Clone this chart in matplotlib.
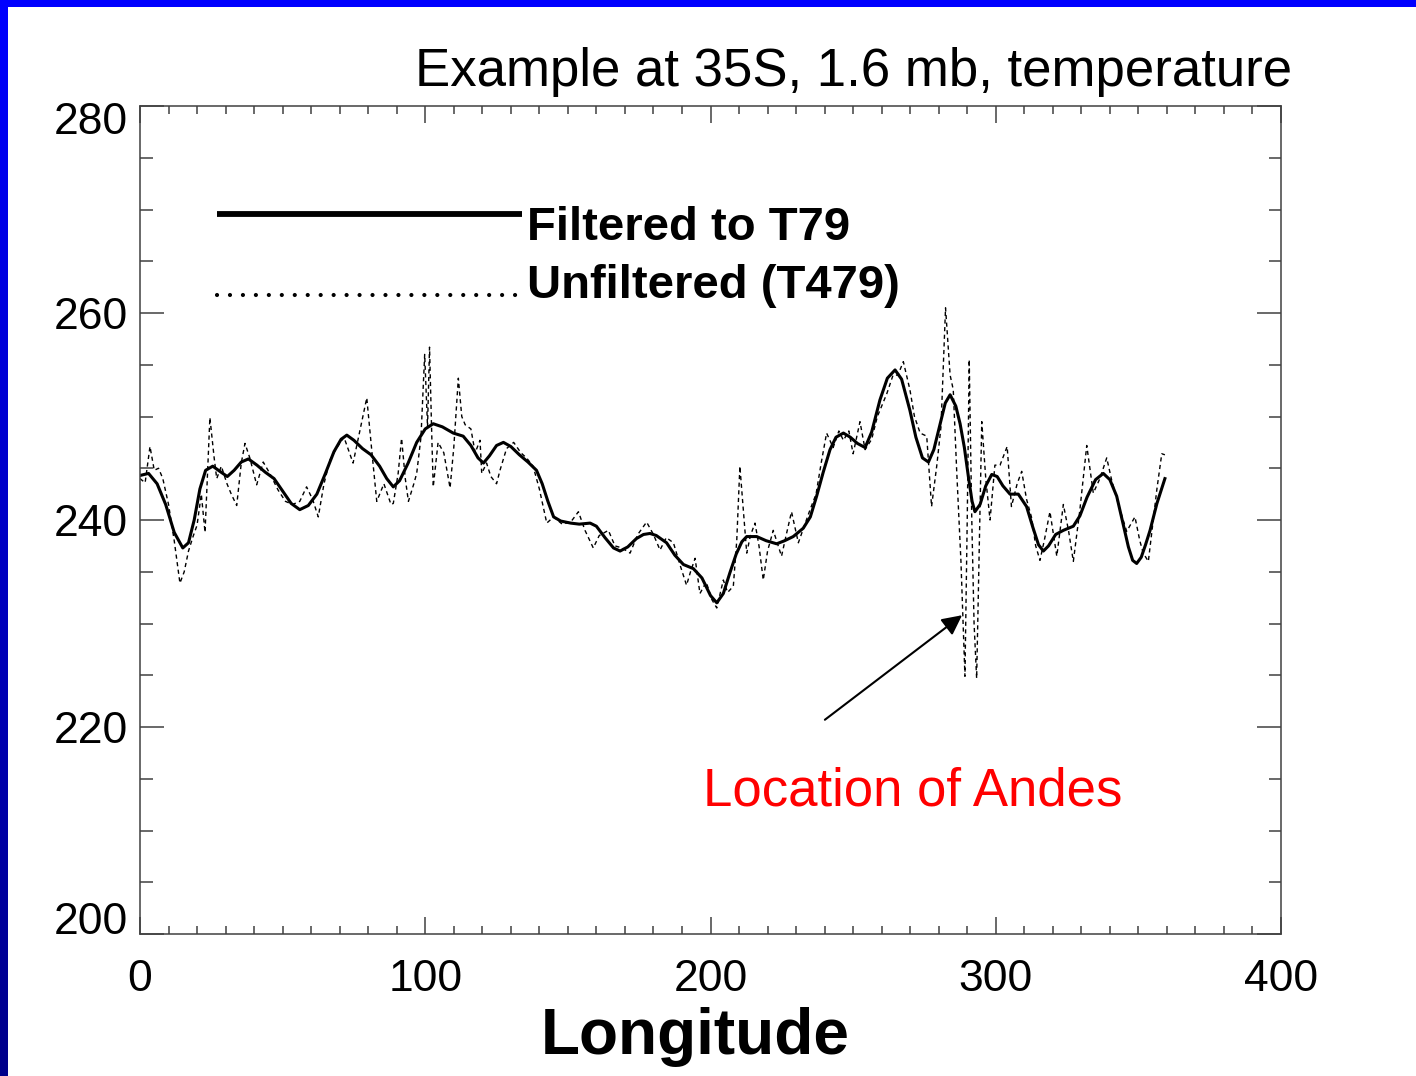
import numpy as np
import matplotlib
matplotlib.use("Agg")
import matplotlib.pyplot as plt
from matplotlib.ticker import MultipleLocator
from matplotlib.transforms import ScaledTranslation

plt.rcParams['font.family'] = ['Liberation Sans', 'DejaVu Sans']

# Filtered to T79 (smooth curve)
lon_filt = [0, 3, 6, 9, 12, 15, 17, 19, 21, 23, 25.5, 28, 30.6, 33, 35.5, 38, 41, 44, 47, 50,
            53, 56, 59, 62, 65, 68, 70.5, 72.5, 75, 78, 81, 84, 86.5, 88.8, 91, 94, 97, 100,
            102.8, 106, 109.8, 113.3, 116, 118.5, 120.4, 122.5, 125, 127.4, 130, 133, 136, 139,
            141, 143, 145, 147.5, 151, 154, 157.8, 160, 163, 166, 168.3, 171, 174, 176.5, 178.8,
            181, 184.6, 187.5, 190.5, 194, 197, 200, 202.2, 204.5, 206.8, 209, 211, 212.7, 216.2,
            219.5, 223.2, 226, 229, 232.5, 235, 237.2, 239.5, 241.9, 244, 246.6, 249, 251.5,
            254.2, 256.5, 259.4, 262, 264.7, 267, 269.9, 272, 274.3, 276.4, 278.3, 280.5, 282.3,
            284, 286, 287.5, 289, 290.5, 291.7, 292.7, 294.5, 296.5, 298.6, 300.5, 302.5, 305,
            307.9, 310.8, 313, 315, 316.7, 318.5, 321, 323.7, 327.2, 329.5, 332, 335, 337.7, 340,
            342.4, 344.5, 346.5, 348, 349.4, 351, 352.5, 354.1, 356.5, 359.3]
t_filt = [244.3, 244.5, 243.5, 241.5, 238.8, 237.3, 237.8, 240.0, 243.0, 244.8, 245.2, 244.7,
          244.2, 244.8, 245.6, 245.9, 245.3, 244.6, 244.0, 242.8, 241.6, 241.0, 241.4, 242.5,
          244.5, 246.6, 247.8, 248.2, 247.7, 246.9, 246.3, 245.2, 244.0, 243.2, 243.8, 245.5,
          247.5, 248.8, 249.3, 249.0, 248.4, 248.1, 247.2, 246.0, 245.5, 246.2, 247.2, 247.5,
          247.1, 246.3, 245.6, 244.8, 243.5, 241.8, 240.3, 239.9, 239.7, 239.6, 239.7, 239.4,
          238.3, 237.3, 237.0, 237.4, 238.2, 238.6, 238.7, 238.5, 237.8, 236.6, 235.7, 235.3,
          234.4, 232.7, 232.0, 232.9, 234.9, 236.7, 237.9, 238.4, 238.4, 238.0, 237.7, 238.0,
          238.4, 239.2, 240.3, 242.3, 244.6, 246.8, 248.0, 248.4, 248.0, 247.4, 247.0, 248.5,
          251.6, 253.7, 254.5, 253.6, 250.6, 248.0, 246.0, 245.6, 246.8, 249.3, 251.3, 252.1,
          251.0, 249.3, 247.0, 244.0, 241.8, 240.8, 241.5, 243.3, 244.4, 244.2, 243.3, 242.5,
          242.5, 241.3, 239.3, 237.6, 237.0, 237.5, 238.6, 239.0, 239.4, 240.4, 242.2, 243.9,
          244.5, 243.9, 242.3, 239.8, 237.4, 236.1, 235.8, 236.4, 237.6, 239.0, 241.6, 244.0]

# Unfiltered (T479)
lon_raw = [0, 1.8, 3.5, 5, 6.5, 8, 10, 12, 14, 15.5, 17, 18.6, 20, 21.5, 22.8, 24.5, 26, 26.9,
           28.5, 30.5, 32, 33.9, 35.5, 36.8, 38.5, 40.9, 43.2, 45.5, 48.4, 51, 53.5, 56, 58.4,
           60.5, 62.5, 64.5, 66.6, 69, 71.5, 74.7, 77, 79.5, 81.5, 83, 85.5, 88, 88.8, 90.5,
           91.7, 93, 94.1, 96, 97, 98.5, 99.8, 100.8, 101.5, 102.3, 102.8, 104.5, 106.5, 108.7,
           110, 111.6, 112.8, 114, 116, 117.5, 119.2, 119.8, 121.5, 123, 125, 126.2, 128.5, 131,
           133.5, 135.5, 137.8, 140, 142.6, 145, 148, 151, 153.7, 156, 158.9, 161, 164.2, 166.5,
           169, 171.8, 174.5, 177.6, 180, 182.3, 184.5, 187, 189.5, 191.6, 193, 194.6, 196.3,
           198.5, 200.5, 202.2, 204.5, 206, 208, 209.2, 210.3, 211.5, 212.7, 214, 215.6, 217,
           218.5, 220, 222, 224.9, 226.5, 228.4, 230.8, 233, 234.9, 237, 238.8, 240.7, 243, 245,
           246.6, 248.5, 250, 252.4, 254.2, 256.5, 258.5, 260, 261.8, 264, 265.7, 267.6, 269.9,
           271.5, 273.5, 275.8, 277.5, 279.3, 280.8, 282.4, 284, 285.1, 286.3, 287.8, 289.2,
           290.0, 290.7, 291.6, 292.4, 293.3, 294.2, 295.1, 296.5, 298, 299.7, 301.5, 304, 305.5,
           307.5, 309.1, 310.8, 312.6, 314, 315.5, 317, 319, 321.4, 323.7, 325.5, 327.2, 329.5,
           331.9, 334.2, 336.5, 338.9, 340.6, 343, 345.9, 348.8, 350.5, 351.7, 353.5, 355, 356.5,
           358.2, 359.3]
t_raw = [244.0, 243.6, 247.1, 244.8, 245.0, 244.0, 241.5, 238.0, 233.9, 235.0, 237.0, 238.4,
         239.5, 242.5, 238.8, 249.9, 246.0, 244.0, 245.2, 243.5, 242.5, 241.4, 245.5, 247.4,
         246.0, 243.4, 245.6, 244.5, 242.9, 241.8, 241.5, 241.8, 243.2, 242.0, 240.3, 243.5,
         245.8, 247.0, 248.0, 245.5, 248.5, 251.8, 246.0, 241.8, 243.5, 241.5, 241.6, 244.5,
         247.9, 244.0, 241.8, 243.5, 244.5, 248.0, 256.0, 249.0, 256.7, 248.0, 243.2, 247.5,
         246.5, 243.1, 247.0, 253.7, 250.0, 249.2, 248.8, 246.5, 247.7, 244.5, 245.5, 244.2,
         243.5, 244.8, 246.9, 247.5, 246.5, 246.0, 245.2, 243.0, 239.7, 240.3, 239.6, 239.8,
         240.8, 239.0, 237.3, 238.5, 239.0, 237.5, 237.3, 236.8, 238.6, 239.8, 238.6, 237.1,
         238.3, 237.8, 235.5, 233.7, 235.0, 236.3, 232.9, 234.0, 232.3, 231.5, 234.2, 233.0,
         233.6, 238.0, 245.2, 241.0, 236.8, 238.5, 239.7, 237.5, 234.2, 237.0, 239.0, 236.5,
         238.5, 240.8, 237.8, 239.5, 241.0, 242.5, 245.5, 248.4, 247.0, 248.6, 247.7, 248.6,
         246.4, 249.5, 246.8, 247.8, 250.0, 251.0, 252.2, 254.0, 254.0, 255.3, 252.6, 250.0,
         248.4, 248.1, 241.3, 245.2, 249.0, 260.5, 254.0, 252.6, 244.8, 236.0, 224.9, 240.0,
         255.5, 240.0, 230.0, 224.7, 237.0, 249.5, 244.0, 240.0, 245.3, 245.3, 247.1, 241.3,
         243.5, 244.7, 242.0, 240.2, 237.5, 236.1, 238.0, 240.8, 236.5, 241.5, 239.0, 236.0,
         241.0, 247.2, 242.6, 244.0, 246.0, 243.9, 241.5, 238.9, 240.3, 238.0, 236.8, 236.0,
         239.5, 243.0, 246.4, 246.3]

y_ticks = [200, 220, 240, 260, 280]
x_ticks = [0, 100, 200, 300, 400]

fig = plt.figure(figsize=(14.16, 10.76), dpi=100)

# slide border: blue gradient on the left, blue bar on top
grad = np.linspace(0, 1, 256).reshape(-1, 1)
bax = fig.add_axes([0, 0, 8 / 1416, 1])
bax.imshow(grad, aspect='auto', cmap=matplotlib.colors.LinearSegmentedColormap.from_list(
    'slide', ['#0000ff', '#00008a']), extent=[0, 1, 0, 1])
bax.axis('off')
tax = fig.add_axes([0, 1 - 7 / 1076, 1, 7 / 1076])
tax.set_facecolor('#0000ff')
tax.set_xticks([])
tax.set_yticks([])
for s in tax.spines.values():
    s.set_visible(False)

ax = fig.add_axes([140 / 1416, 1 - 934 / 1076, (1281 - 140) / 1416, (934 - 106) / 1076])
ax.plot(lon_raw, t_raw, color='black', lw=1.0, dashes=(3, 2.5))
ax.plot(lon_filt, t_filt, color='black', lw=2.2)

ax.set_xlim(0, 400)
ax.set_ylim(200, 280)
ax.set_xticks(x_ticks)
ax.set_yticks(y_ticks)
ax.xaxis.set_minor_locator(MultipleLocator(10))
ax.yaxis.set_minor_locator(MultipleLocator(5))
ax.tick_params(which='both', direction='in', top=True, right=True, color='#404040', width=1.1)
ax.tick_params(axis='x', which='major', length=12, labelsize=32, pad=18)
ax.tick_params(axis='x', which='minor', length=6)
ax.tick_params(axis='y', which='major', length=17, labelsize=32, pad=9)
ax.tick_params(axis='y', which='minor', length=9)
for s in ax.spines.values():
    s.set_color('#404040')
    s.set_linewidth(1.1)

# IDL keeps the end labels inside the axis range
for lab in ax.get_yticklabels():
    if lab.get_text() == '280':
        lab.set_transform(lab.get_transform() + ScaledTranslation(0, -0.12, fig.dpi_scale_trans))
    elif lab.get_text() == '200':
        lab.set_transform(lab.get_transform() + ScaledTranslation(0, 0.16, fig.dpi_scale_trans))

# legend drawn in the IDL style
ax.plot([0.0675, 0.3348], [0.8696, 0.8696], transform=ax.transAxes, color='black', lw=4.2,
        solid_capstyle='butt')
ax.plot([0.0675, 0.3348], [0.7717, 0.7717], transform=ax.transAxes, color='black', lw=3.0,
        dashes=(0.01, 3.1), dash_capstyle='round')
ax.text(0.339, 0.838, 'Filtered to T79', transform=ax.transAxes, fontsize=34,
        fontweight='bold', va='baseline', ha='left')
ax.text(0.339, 0.768, 'Unfiltered (T479)', transform=ax.transAxes, fontsize=34,
        fontweight='bold', va='baseline', ha='left')

ax.annotate('', xy=(288.2, 230.8), xytext=(240.1, 220.7),
            arrowprops=dict(arrowstyle='-|>', color='black', lw=1.5, mutation_scale=30,
                            shrinkA=0, shrinkB=0))
ax.text(197.4, 212.4, 'Location of Andes', color='red', fontsize=38, va='baseline', ha='left')

fig.text(415 / 1416, 1 - 86 / 1076, 'Example at 35S, 1.6 mb, temperature', fontsize=38,
         va='baseline', ha='left')
fig.text(695 / 1416, 1 - 1054 / 1076, 'Longitude', fontsize=46, fontweight='bold',
         va='baseline', ha='center')

fig.savefig('out.png', dpi=100)
